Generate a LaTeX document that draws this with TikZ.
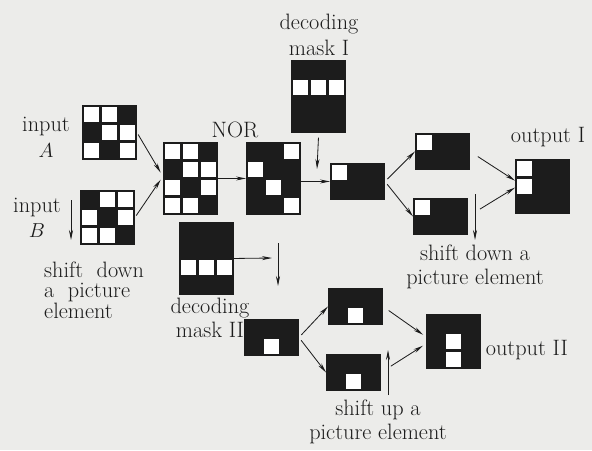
\documentclass[tikz,border=0pt]{standalone}
\usepackage{amsmath}
\usepackage{tikz}
\usetikzlibrary{positioning, arrows.meta}
\definecolor{paper}{RGB}{236,236,234}
\definecolor{ink}{RGB}{28,28,28}
\newcommand{\holes}[2]{%
  \foreach \c/\r in {#2}
    \fill[white, shift={(#1.north west)}] (\c*18-16.5,\r*18-16.5) rectangle +(15,15);}

\begin{document}
\begin{tikzpicture}[x=0.03cm, y=-0.03cm,
  pix/.style={draw=ink, fill=ink, line width=0.8pt, inner sep=0pt, anchor=north west, minimum width=1.62cm},
  g2/.style={pix, minimum height=1.08cm},
  g3/.style={pix, minimum height=1.62cm},
  g4/.style={pix, minimum height=2.16cm},
  lab/.style={font=\fontsize{19}{21}\selectfont, text=ink, inner sep=0pt, align=center},
  arr/.style={draw=ink, line width=0.7pt, -{Stealth[length=3mm, width=1.2mm]}}]
\fill[paper] (0,0) rectangle (592,450);
\useasboundingbox (0,0) rectangle (592,450);
\node[g3] (gA) at (82,105) {};
\holes{gA}{1/1,2/1,2/2,3/2,1/3,3/3}
\node[g3] (gB) at (80,190) {};
\holes{gB}{2/1,3/1,1/2,3/2,1/3,2/3}
\node[g4] (gOR) at (163,142) {};
\holes{gOR}{1/1,2/1,2/2,3/2,1/3,3/3,1/4,2/4}
\node[g4] (gNOR) at (246,142) {};
\holes{gNOR}{3/1,1/2,2/3,3/4}
\node[g4] (mask1) at (291,60) {};
\holes{mask1}{1/2,2/2,3/2}
\node[g4] (mask2) at (179,222) {};
\holes{mask2}{1/3,2/3,3/3}
\node[g2] (res1) at (330,163) {};
\holes{res1}{1/1}
\node[g2] (up1) at (415,133) {};
\holes{up1}{1/1}
\node[g2] (lo1) at (413,198) {};
\holes{lo1}{1/1}
\node[g3] (out1) at (515,159) {};
\holes{out1}{1/1,1/2}
\node[g2] (res2) at (244,319) {};
\holes{res2}{2/2}
\node[g2] (up2) at (328,288) {};
\holes{up2}{2/2}
\node[g2] (lo2) at (326,354) {};
\holes{lo2}{2/2}
\node[g3] (out2) at (426,314) {};
\holes{out2}{2/2,2/3}

\node[lab] (labA) at (46,137) {input\\[1pt]$A$};
\node[lab] (labB) at (37,218) {input\\$B$};
\node[lab, align=left, anchor=west, font=\fontsize{19}{17.5}\selectfont] (shdown) at (44,290) {shift~~down\\a~~picture\\element};
\node[lab] (nor) at (235,130) {NOR};
\node[lab] (dec1) at (319,35) {decoding\\[1pt]mask I};
\node[lab] (o1lab) at (548,137) {output I};
\node[lab] (sdlab) at (475,267) {shift down a\\picture element};
\node[lab] (dec2) at (210,318) {decoding\\mask II};
\node[lab] (sulab) at (378,422) {shift up a\\picture element};
\node[lab, right=4pt of out2, yshift=-7pt] (o2lab) {output II};

\coordinate (dB1) at (71,200);
\coordinate (dB2) at (71,240);
\coordinate (m1end) at (317,169);
\coordinate (sd1a) at (475,194);
\coordinate (sd1b) at (475,240);
\coordinate (m2end) at (272,258);
\coordinate (v2a) at (278,243);
\coordinate (v2b) at (278,286);
\coordinate (su1) at (388,395);
\coordinate (su2) at (388,350);

\draw[arr] (dB1) -- (dB2);
\draw[arr, shorten <=2pt] (gA.east) -- ([xshift=-2pt, yshift=5pt]gOR.west);
\draw[arr, shorten <=2pt] (gB.east) -- ([xshift=-2pt, yshift=-1pt]gOR.west);
\draw[arr] (gOR) -- (gNOR);
\draw[arr] (gNOR.east |- res1.west) -- (res1.west);
\draw[arr] ([yshift=-4pt]mask1.south) -- (m1end);
\draw[arr, shorten <=3pt] (res1.east) -- (up1.west);
\draw[arr, shorten <=3pt] (res1.east) -- (lo1.west);
\draw[arr, shorten <=8pt] (up1.east) -- ([yshift=5pt]out1.west);
\draw[arr, shorten <=12pt] (lo1.east) -- ([yshift=-1pt]out1.west);
\draw[arr] (sd1a) -- (sd1b);
\draw[arr] (mask2.east) -- (m2end);
\draw[arr] (v2a) -- (v2b);
\draw[arr, shorten <=3pt] (res2.east) -- (up2.west);
\draw[arr, shorten <=3pt] (res2.east) -- (lo2.west);
\draw[arr, shorten <=6pt, shorten >=3pt] (up2.east) -- ([yshift=4pt]out2.west);
\draw[arr, shorten <=10pt, shorten >=3pt] (lo2.east) -- ([yshift=-2pt]out2.west);
\draw[arr] (su1) -- (su2);
\end{tikzpicture}
\end{document}
